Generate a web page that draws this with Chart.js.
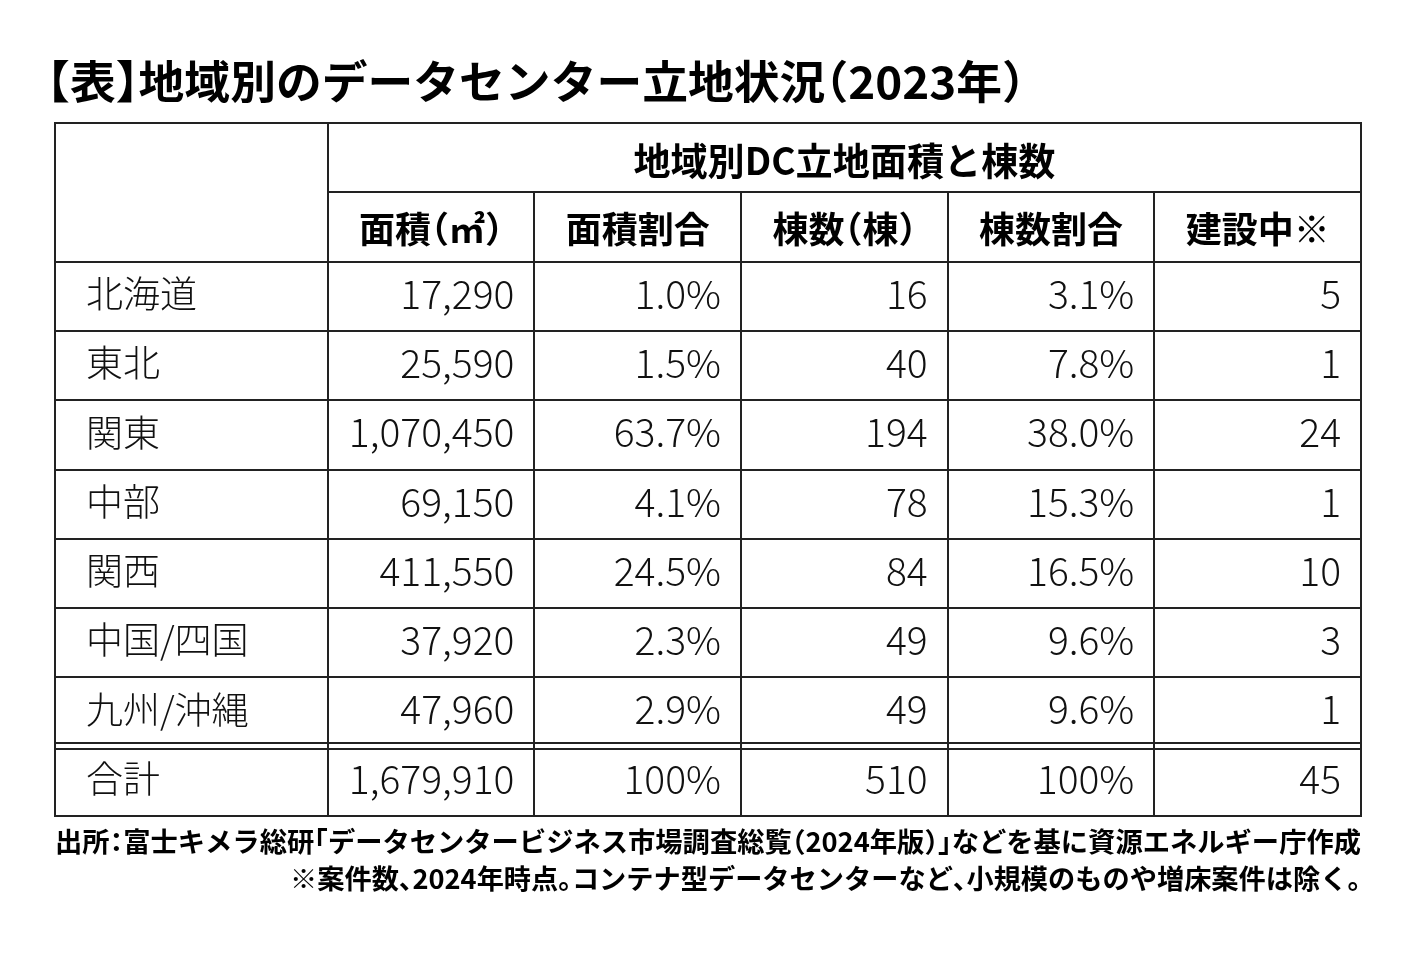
<!DOCTYPE html>
<html><head><meta charset="utf-8">
<script src="https://cdn.jsdelivr.net/npm/chart.js@4/dist/chart.umd.min.js"></script>
<style>html,body{margin:0;padding:0;background:#fff}canvas{display:block}</style>
</head><body>
<canvas id="c" width="1417" height="953"></canvas>
<script>
// ---- data ----
const titleText = '【表】地域別のデータセンター立地状況（2023年）';
const groupHeader = '地域別DC立地面積と棟数';
const columnHeaders = ['面積（㎡）', '面積割合', '棟数（棟）', '棟数割合', '建設中※'];
const regions = ['北海道', '東北', '関東', '中部', '関西', '中国/四国', '九州/沖縄', '合計'];
const areaM2 = [17290, 25590, 1070450, 69150, 411550, 37920, 47960, 1679910];
const areaShare = [1.0, 1.5, 63.7, 4.1, 24.5, 2.3, 2.9, 100];
const buildingCount = [16, 40, 194, 78, 84, 49, 49, 510];
const buildingShare = [3.1, 7.8, 38.0, 15.3, 16.5, 9.6, 9.6, 100];
const underConstruction = [5, 1, 24, 1, 10, 3, 1, 45];
const sourceNote = '出所：富士キメラ総研「データセンタービジネス市場調査総覧（2024年版）」などを基に資源エネルギー庁作成';
const footNote = '※案件数、2024年時点。コンテナ型データセンターなど、小規模のものや増床案件は除く。';

// ---- layout (not data) ----
const colWeights = [1.32, 1, 1, 1, 1, 1];
const colEdges = colWeights.reduce((a, w) => { a.push(a[a.length - 1] + w); return a; }, [0]);
const ROWS = 10; // header, subheader, 7 regions, total
const FONT = "'Noto Sans CJK JP', 'Noto Sans', sans-serif";

const pct = v => (v === 100 ? '100%' : v.toFixed(1) + '%');
const valueColumns = [
  { values: areaM2, fmt: v => v.toLocaleString('en-US') },
  { values: areaShare, fmt: pct },
  { values: buildingCount, fmt: v => String(v) },
  { values: buildingShare, fmt: pct },
  { values: underConstruction, fmt: v => String(v) }
];

const datasets = [
  { label: 'group', kind: 'group', data: [{ x: (colEdges[1] + colEdges[6]) / 2, y: 0.5, t: groupHeader }] },
  { label: 'headers', kind: 'header', data: columnHeaders.map((h, j) => ({ x: (colEdges[j + 1] + colEdges[j + 2]) / 2, y: 1.5, t: h })) },
  { label: 'regions', kind: 'region', data: regions.map((r, i) => ({ x: colEdges[0], y: i + 2.5, t: r })) },
  ...valueColumns.map((col, j) => ({
    label: columnHeaders[j], kind: 'value',
    data: col.values.map((v, i) => ({ x: colEdges[j + 2], y: i + 2.5, t: col.fmt(v) }))
  }))
].map(d => Object.assign(d, { pointRadius: 0, pointHoverRadius: 0, showLine: false }));

// palt-like drawing of Japanese text
const openP = '（「【『〔';
const closeP = '）」】』〕、。';
const midP = '：・';
function paltLayout(ctx, text) {
  const items = []; let pos = 0;
  for (const ch of text) {
    const w = ctx.measureText(ch).width;
    if (openP.includes(ch)) { items.push([ch, pos - w / 2]); pos += w / 2; }
    else if (closeP.includes(ch)) { items.push([ch, pos]); pos += w / 2; }
    else if (midP.includes(ch)) { items.push([ch, pos - w / 4]); pos += w / 2; }
    else { items.push([ch, pos]); pos += w; }
  }
  return { items, width: pos };
}
function drawText(ctx, text, x, baseline, opt) {
  ctx.save();
  ctx.font = opt.font;
  ctx.fillStyle = opt.color || '#111';
  ctx.textBaseline = 'alphabetic';
  ctx.textAlign = 'left';
  const L = paltLayout(ctx, text);
  const s = opt.width ? opt.width / L.width : 1;
  const W = L.width * s;
  let x0 = x;
  if (opt.align === 'right') x0 = x - W;
  else if (opt.align === 'center') x0 = x - W / 2;
  ctx.translate(x0, baseline);
  ctx.scale(s, 1);
  for (const [ch, p] of L.items) ctx.fillText(ch, p, 0);
  ctx.restore();
}

const tablePlugin = {
  id: 'tablePlugin',
  beforeDraw(chart) {
    const c = chart.ctx;
    c.save(); c.fillStyle = '#fff'; c.fillRect(0, 0, chart.width, chart.height); c.restore();
  },
  beforeDatasetsDraw(chart) {
    const c = chart.ctx, xs = chart.scales.x, ys = chart.scales.y;
    const X = v => Math.round(xs.getPixelForValue(v));
    const Y = v => Math.round(ys.getPixelForValue(v));
    c.save();
    c.strokeStyle = '#222';
    c.lineWidth = 2;
    const line = (x1, y1, x2, y2) => { c.beginPath(); c.moveTo(x1, y1); c.lineTo(x2, y2); c.stroke(); };
    c.strokeRect(X(0), Y(0), X(colEdges[6]) - X(0), Y(ROWS) - Y(0));
    line(X(colEdges[1]), Y(1), X(colEdges[6]), Y(1));
    for (let r = 2; r <= 8; r++) line(X(0), Y(r), X(colEdges[6]), Y(r));
    line(X(0), Y(9) - 4, X(colEdges[6]), Y(9) - 4);
    line(X(0), Y(9) + 2, X(colEdges[6]), Y(9) + 2);
    line(X(colEdges[1]), Y(0), X(colEdges[1]), Y(ROWS));
    for (let k = 2; k <= 5; k++) line(X(colEdges[k]), Y(1), X(colEdges[k]), Y(ROWS));
    c.restore();
  },
  afterDatasetsDraw(chart) {
    const c = chart.ctx;
    chart.data.datasets.forEach((ds, di) => {
      const meta = chart.getDatasetMeta(di);
      meta.data.forEach((pt, i) => {
        const t = ds.data[i].t;
        if (ds.kind === 'group') {
          drawText(c, t, pt.x, pt.y + 0.37 * 38 + 3, { font: `bold 38px ${FONT}`, align: 'center', width: 422, color: '#000' });
        } else if (ds.kind === 'header') {
          drawText(c, t, pt.x, pt.y + 0.37 * 36 + 3, { font: `bold 36px ${FONT}`, align: 'center', color: '#000' });
        } else if (ds.kind === 'region') {
          drawText(c, t, pt.x + 31, pt.y + 0.37 * 37 - 2, { font: `300 37px ${FONT}`, align: 'left', color: '#111' });
        } else {
          drawText(c, t, pt.x - 20, pt.y + 0.37 * 39 - 2, { font: `300 39px ${FONT}`, align: 'right', color: '#111' });
        }
      });
    });
  },
  afterDraw(chart) {
    const c = chart.ctx, a = chart.chartArea;
    drawText(c, titleText, a.left - 8, 99, { font: `bold 45px ${FONT}`, align: 'left', width: 978, color: '#000' });
    drawText(c, sourceNote, a.left, 852, { font: `bold 27px ${FONT}`, align: 'left', width: a.right - a.left, color: '#000' });
    drawText(c, footNote, a.right, 889, { font: `bold 27px ${FONT}`, align: 'right', width: 1071, color: '#000' });
  }
};

new Chart(document.getElementById('c'), {
  type: 'scatter',
  data: { datasets },
  options: {
    responsive: false,
    devicePixelRatio: 1,
    animation: false,
    events: [],
    layout: { padding: { left: 55, right: 56, top: 123, bottom: 137 } },
    plugins: { legend: { display: false }, title: { display: false }, tooltip: { enabled: false } },
    scales: {
      x: { type: 'linear', min: 0, max: colEdges[6], display: false },
      y: { type: 'linear', min: 0, max: ROWS, reverse: true, display: false }
    }
  },
  plugins: [tablePlugin]
});
</script>
</body></html>
